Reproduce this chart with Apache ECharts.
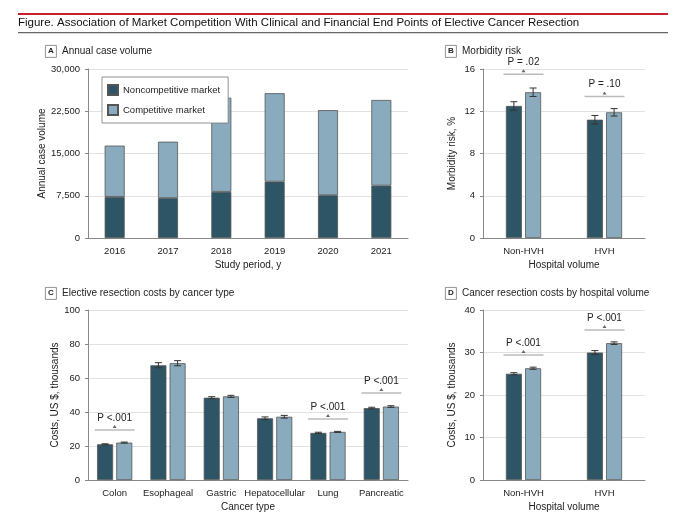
<!DOCTYPE html>
<html>
<head>
<meta charset="utf-8">
<script src="https://cdn.jsdelivr.net/npm/echarts@6/dist/echarts.min.js"></script>
</head>
<body style="margin:0;background:#fff">
<div id="main" style="width:680px;height:515px;"></div>
<script>
// panel A
var years = ['2016', '2017', '2018', '2019', '2020', '2021'];
var nonCompVolume = [7300, 7100, 8200, 10000, 7600, 9300];
var compVolume = [9100, 10000, 16700, 15700, 15100, 15200];
// panel B
var hospCats = ['Non-HVH', 'HVH'];
var morbNon = [12.5, 11.2];
var morbComp = [13.8, 11.9];
var morbNonErr = [0.4, 0.4];
var morbCompErr = [0.4, 0.35];
var morbP = [[0, 15.5, 'P = .02'], [1, 13.4, 'P = .10']];
// panel C
var cancerTypes = ['Colon', 'Esophageal', 'Gastric', 'Hepatocellular', 'Lung', 'Pancreatic'];
var costNon = [21.0, 67.5, 48.4, 36.3, 27.7, 42.3];
var costComp = [22.0, 68.7, 49.2, 37.2, 28.3, 43.2];
var costNonErr = [0.3, 1.5, 0.6, 0.8, 0.4, 0.5];
var costCompErr = [0.3, 1.5, 0.6, 0.8, 0.3, 0.5];
var costP = [[0, 29.4, 'P <.001'], [4, 35.9, 'P <.001'], [5, 51.2, 'P <.001']];
// panel D
var hvCostNon = [25.0, 30.0];
var hvCostComp = [26.3, 32.2];
var hvCostNonErr = [0.25, 0.45];
var hvCostCompErr = [0.25, 0.3];
var hvP = [[0, 29.4, 'P <.001'], [1, 35.3, 'P <.001']];

var DARK = '#2e5566', LIGHT = '#8aabbd', EDGE = '#555';
var FONT = '"Liberation Sans Narrow", "Liberation Sans", sans-serif';
var BW = 16, OFF = 9.6;

var myChart = echarts.init(document.getElementById('main'));

var grids = [
  {left: 88, top: 69, width: 320, height: 169},
  {left: 483, top: 69, width: 162, height: 169},
  {left: 88, top: 310, width: 320, height: 170},
  {left: 483, top: 310, width: 162, height: 170}
];

function xAx(i, data, name) {
  return {
    gridIndex: i, type: 'category', data: data, name: name,
    nameLocation: 'middle', nameGap: 22,
    nameTextStyle: {fontFamily: FONT, fontSize: 10, color: '#222'},
    axisLine: {lineStyle: {color: '#888'}}, axisTick: {show: false},
    axisLabel: {fontFamily: FONT, fontSize: 9.5, color: '#222', interval: 0}
  };
}
function yAx(i, max, interval, name) {
  return {
    gridIndex: i, type: 'value', min: 0, max: max, interval: interval, name: name,
    nameLocation: 'middle', nameGap: i === 0 ? 40 : 26,
    nameTextStyle: {fontFamily: FONT, fontSize: 10, color: '#222'},
    axisLine: {show: true, lineStyle: {color: '#888'}},
    axisTick: {show: true, length: 3, lineStyle: {color: '#888'}},
    axisLabel: {fontFamily: FONT, fontSize: 9.5, color: '#222'},
    splitLine: {lineStyle: {color: '#e2e2e2'}}
  };
}

function errSeries(i, vals, errs, offset) {
  return {
    type: 'custom', xAxisIndex: i, yAxisIndex: i, z: 5, silent: true,
    data: vals.map(function (v, k) { return [k, v, errs[k]]; }),
    renderItem: function (params, api) {
      var c = api.coord([api.value(0), api.value(1) + api.value(2)]);
      var d = api.coord([api.value(0), api.value(1) - api.value(2)]);
      var x = c[0] + offset;
      var s = {stroke: '#333', lineWidth: 1};
      return {type: 'group', children: [
        {type: 'line', shape: {x1: x, y1: c[1], x2: x, y2: d[1]}, style: s},
        {type: 'line', shape: {x1: x - 3.5, y1: c[1], x2: x + 3.5, y2: c[1]}, style: s},
        {type: 'line', shape: {x1: x - 3.5, y1: d[1], x2: x + 3.5, y2: d[1]}, style: s}
      ]};
    }
  };
}

function pSeries(i, items) {
  return {
    type: 'custom', xAxisIndex: i, yAxisIndex: i, z: 6, silent: true,
    data: items,
    renderItem: function (params, api) {
      var p = api.coord([api.value(0), api.value(1)]);
      var lbl = items[params.dataIndex][2];
      return {type: 'group', children: [
        {type: 'line', shape: {x1: p[0] - 20, y1: p[1], x2: p[0] + 20, y2: p[1]},
          style: {stroke: '#bbb', lineWidth: 1.5}},
        {type: 'polygon', shape: {points: [[p[0] - 2, p[1] - 2], [p[0] + 2, p[1] - 2], [p[0], p[1] - 5]]},
          style: {fill: '#666'}},
        {type: 'text', x: p[0], y: p[1] - 7,
          style: {text: lbl, fontFamily: FONT, fontSize: 10, fill: '#222',
            align: 'center', verticalAlign: 'bottom', fontStyle: 'normal'}}
      ]};
    }
  };
}

function barPair(i, non, comp) {
  return [
    {name: 'Noncompetitive market', type: 'bar', xAxisIndex: i, yAxisIndex: i, data: non,
      barWidth: BW, barGap: '20%', itemStyle: {color: DARK, borderColor: EDGE, borderWidth: 0.8}},
    {name: 'Competitive market', type: 'bar', xAxisIndex: i, yAxisIndex: i, data: comp,
      barWidth: BW, barGap: '20%', itemStyle: {color: LIGHT, borderColor: EDGE, borderWidth: 0.8}}
  ];
}

function panelLabel(x, y, letter, text) {
  return [
    {type: 'rect', left: x, top: y, shape: {width: 11, height: 12},
      style: {fill: '#fff', stroke: '#777', lineWidth: 0.8}},
    {type: 'text', left: x + 3, top: y + 1.5, style: {text: letter, font: 'bold 8px ' + FONT, fill: '#222'}},
    {type: 'text', left: x + 17, top: y + 1, style: {text: text, font: '10px ' + FONT, fill: '#222'}}
  ];
}

var series = [
  {name: 'Noncompetitive market', type: 'bar', stack: 'a', data: nonCompVolume, barWidth: 20,
    itemStyle: {color: DARK, borderColor: EDGE, borderWidth: 0.8}},
  {name: 'Competitive market', type: 'bar', stack: 'a', data: compVolume, barWidth: 20,
    itemStyle: {color: LIGHT, borderColor: EDGE, borderWidth: 0.8}}
];
series = series.concat(barPair(1, morbNon, morbComp), [
  errSeries(1, morbNon, morbNonErr, -OFF), errSeries(1, morbComp, morbCompErr, OFF), pSeries(1, morbP)
]);
series = series.concat(barPair(2, costNon, costComp), [
  errSeries(2, costNon, costNonErr, -OFF), errSeries(2, costComp, costCompErr, OFF), pSeries(2, costP)
]);
series = series.concat(barPair(3, hvCostNon, hvCostComp), [
  errSeries(3, hvCostNon, hvCostNonErr, -OFF), errSeries(3, hvCostComp, hvCostCompErr, OFF), pSeries(3, hvP)
]);

var option = {
  animation: false,
  grid: grids,
  legend: {
    data: ['Noncompetitive market', 'Competitive market'],
    orient: 'vertical', left: 102, top: 77, padding: [7, 8, 7, 5], itemGap: 8,
    itemWidth: 10, itemHeight: 10, borderColor: '#777', borderWidth: 0.8,
    backgroundColor: '#fff', icon: 'rect',
    textStyle: {fontFamily: FONT, fontSize: 9.5, color: '#222'}
  },
  xAxis: [
    xAx(0, years, 'Study period, y'),
    xAx(1, hospCats, 'Hospital volume'),
    xAx(2, cancerTypes, 'Cancer type'),
    xAx(3, hospCats, 'Hospital volume')
  ],
  yAxis: [
    yAx(0, 30000, 7500, 'Annual case volume'),
    yAx(1, 16, 4, 'Morbidity risk, %'),
    yAx(2, 100, 20, 'Costs, US $, thousands'),
    yAx(3, 40, 10, 'Costs, US $, thousands')
  ],
  series: series,
  graphic: [
    {type: 'rect', left: 18, top: 13, shape: {width: 650, height: 2}, style: {fill: '#c8202f'}},
    {type: 'text', left: 18, top: 17, style: {text: 'Figure. Association of Market Competition With Clinical and Financial End Points of Elective Cancer Resection',
      font: '11.5px ' + FONT, fill: '#111'}},
    {type: 'rect', left: 18, top: 32, shape: {width: 650, height: 1.2}, style: {fill: '#666'}}
  ].concat(
    panelLabel(45, 45, 'A', 'Annual case volume'),
    panelLabel(445, 45, 'B', 'Morbidity risk'),
    panelLabel(45, 287, 'C', 'Elective resection costs by cancer type'),
    panelLabel(445, 287, 'D', 'Cancer resection costs by hospital volume')
  )
};
myChart.setOption(option);
</script>
</body>
</html>
